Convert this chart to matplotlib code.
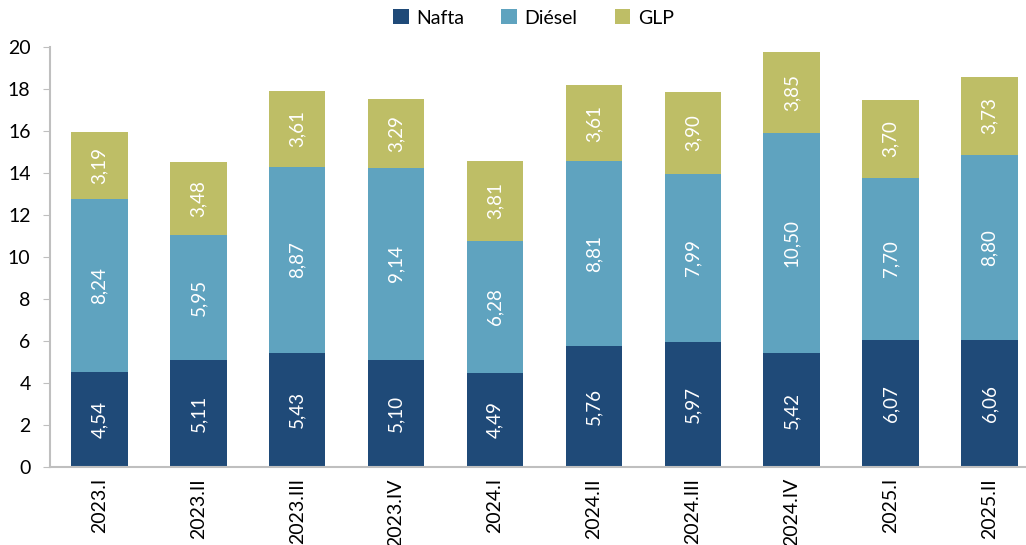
import matplotlib.pyplot as plt
import numpy as np

plt.rcParams['font.family'] = ['Lato', 'DejaVu Sans']

periodos = ['2023.I', '2023.II', '2023.III', '2023.IV', '2024.I',
            '2024.II', '2024.III', '2024.IV', '2025.I', '2025.II']
nafta = [4.54, 5.11, 5.43, 5.10, 4.49, 5.76, 5.97, 5.42, 6.07, 6.06]
diesel = [8.24, 5.95, 8.87, 9.14, 6.28, 8.81, 7.99, 10.50, 7.70, 8.80]
glp = [3.19, 3.48, 3.61, 3.29, 3.81, 3.61, 3.90, 3.85, 3.70, 3.73]

series = [('Nafta', nafta, '#1F4A78'),
          ('Diésel', diesel, '#5FA3BF'),
          ('GLP', glp, '#BEBE66')]

fig = plt.figure(figsize=(10.26, 5.45), dpi=100)
ax = fig.add_axes([50/1026, 78/545, 975/1026, 420/545])

x = np.arange(len(periodos))
base = np.zeros(len(periodos))
for nombre, vals, color in series:
    vals = np.array(vals)
    ax.bar(x, vals, 0.57, bottom=base, color=color, label=nombre)
    for xi, b, v in zip(x, base, vals):
        ax.text(xi, b + v/2, f'{v:.2f}'.replace('.', ','), rotation=90,
                ha='center', va='center', color='white', fontsize=13.5)
    base += vals

ax.set_xlim(-0.5, 9.36)
ax.set_ylim(0, 20)
ax.set_yticks(range(0, 21, 2))
ax.set_xticks(x)
ax.set_xticklabels(periodos, rotation=90, fontsize=14)
ax.tick_params(axis='y', labelsize=14, color='#BFBFBF', length=5, pad=9)
ax.tick_params(axis='x', length=0, pad=8)
for s in ['top', 'right']:
    ax.spines[s].set_visible(False)
for s in ['left', 'bottom']:
    ax.spines[s].set_color('#BFBFBF')
    ax.spines[s].set_linewidth(1.5)

fig.legend(loc='upper center', bbox_to_anchor=(0.52, 1.015), ncol=3, frameon=False,
           fontsize=14, handlelength=0.8, handleheight=0.8, columnspacing=1.9,
           handletextpad=0.4)

fig.savefig('out.png', dpi=100)
